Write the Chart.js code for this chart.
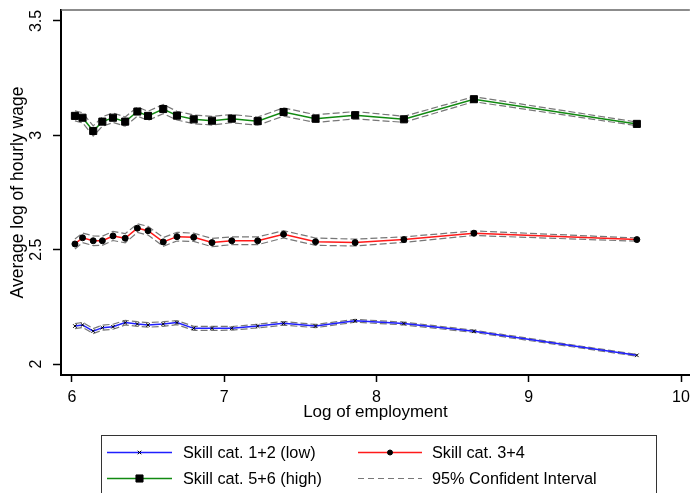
<!DOCTYPE html>
<html>
<head>
<meta charset="utf-8">
<script src="https://cdn.jsdelivr.net/npm/chart.js@4/dist/chart.umd.min.js"></script>
<style>
  html, body { margin: 0; padding: 0; background: #fff; }
  #wrap { width: 696px; height: 493px; }
</style>
</head>
<body>
<div id="wrap"><canvas id="wageChart" width="696" height="493"></canvas></div>
<script>
// Data
const logEmployment = [6.02, 6.07, 6.14, 6.20, 6.27, 6.35, 6.43, 6.50, 6.60, 6.69, 6.80, 6.92, 7.05, 7.22, 7.39, 7.60, 7.86, 8.18, 8.64, 9.71];

const lowSkill  = [2.166, 2.171, 2.144, 2.159, 2.163, 2.181, 2.175, 2.171, 2.175, 2.181, 2.156, 2.156, 2.156, 2.166, 2.178, 2.166, 2.189, 2.177, 2.143, 2.038];
const lowHi     = [2.177, 2.182, 2.155, 2.170, 2.174, 2.191, 2.185, 2.181, 2.185, 2.190, 2.165, 2.165, 2.164, 2.174, 2.186, 2.173, 2.195, 2.183, 2.148, 2.042];
const lowLo     = [2.155, 2.160, 2.133, 2.148, 2.152, 2.171, 2.165, 2.161, 2.165, 2.172, 2.147, 2.147, 2.148, 2.158, 2.170, 2.159, 2.183, 2.171, 2.138, 2.034];

const midSkill  = [2.525, 2.552, 2.539, 2.539, 2.560, 2.550, 2.594, 2.583, 2.534, 2.557, 2.554, 2.531, 2.539, 2.539, 2.567, 2.535, 2.531, 2.544, 2.572, 2.544];
const midHi     = [2.547, 2.573, 2.560, 2.559, 2.580, 2.570, 2.613, 2.602, 2.553, 2.576, 2.572, 2.549, 2.556, 2.556, 2.583, 2.551, 2.546, 2.556, 2.582, 2.551];
const midLo     = [2.503, 2.531, 2.518, 2.519, 2.540, 2.530, 2.575, 2.564, 2.515, 2.538, 2.536, 2.513, 2.522, 2.522, 2.551, 2.519, 2.516, 2.532, 2.562, 2.537];

const highSkill = [3.085, 3.077, 3.019, 3.060, 3.077, 3.060, 3.104, 3.085, 3.115, 3.086, 3.070, 3.064, 3.073, 3.062, 3.102, 3.073, 3.088, 3.070, 3.158, 3.050];
const highHi    = [3.107, 3.099, 3.041, 3.081, 3.098, 3.080, 3.124, 3.105, 3.135, 3.105, 3.089, 3.083, 3.091, 3.080, 3.120, 3.090, 3.104, 3.083, 3.169, 3.058];
const highLo    = [3.063, 3.055, 2.997, 3.039, 3.056, 3.040, 3.084, 3.065, 3.095, 3.067, 3.051, 3.045, 3.055, 3.044, 3.084, 3.056, 3.072, 3.057, 3.147, 3.042];

const xTicks = [6, 7, 8, 9, 10];
const yTicks = [2, 2.5, 3, 3.5];

const seriesLabels = ['Skill cat. 1+2 (low)', 'Skill cat. 3+4', 'Skill cat. 5+6 (high)', '95% Confident Interval'];

const FONT = "'Liberation Sans', Arial, sans-serif";
const BLUE = '#1f1fff';
const RED = '#ff1a1a';
const GREEN = '#118a11';
const CI_GREY = '#777';

function toPoints(values) {
    return values.map((v, i) => ({ x: logEmployment[i], y: v }));
}

function seriesDataset(label, values, color, style, radius) {
    return {
        label: label,
        data: toPoints(values),
        borderColor: color,
        borderWidth: 1.5,
        pointStyle: style,
        pointRadius: radius,
        pointBackgroundColor: '#000',
        pointBorderColor: '#000',
        pointBorderWidth: 1,
        tension: 0,
        fill: false,
        order: 0
    };
}

function ciDataset(values) {
    return {
        label: 'ci',
        data: toPoints(values),
        borderColor: CI_GREY,
        borderWidth: 1.2,
        borderDash: [7, 3],
        pointRadius: 0,
        tension: 0,
        fill: false,
        order: 1
    };
}

// frame, rotated y tick labels and the boxed legend
const extrasPlugin = {
    id: 'extras',
    afterDraw(chart) {
        const { ctx, chartArea, scales } = chart;
        ctx.save();

        // top border
        ctx.strokeStyle = '#666';
        ctx.lineWidth = 1.5;
        ctx.beginPath();
        ctx.moveTo(chartArea.left, chartArea.top);
        ctx.lineTo(chartArea.right, chartArea.top);
        ctx.stroke();

        // vertical y tick labels
        ctx.fillStyle = '#000';
        ctx.font = '16px ' + FONT;
        ctx.textAlign = 'center';
        ctx.textBaseline = 'middle';
        yTicks.forEach(v => {
            const y = scales.y.getPixelForValue(v);
            ctx.save();
            ctx.translate(37, y);
            ctx.rotate(-Math.PI / 2);
            ctx.fillText(String(v), 0, 0);
            ctx.restore();
        });

        // legend box
        ctx.strokeStyle = '#333';
        ctx.lineWidth = 1;
        ctx.strokeRect(101.5, 435.5, 555, 70);

        const rows = [452.5, 478.5];
        const cols = [{ x0: 107, x1: 172, tx: 183 }, { x0: 358, x1: 422, tx: 432 }];
        const entries = [
            { col: 0, row: 0, color: BLUE, marker: 'crossRot', r: 2.5 },
            { col: 1, row: 0, color: RED, marker: 'circle', r: 2.5 },
            { col: 0, row: 1, color: GREEN, marker: 'rect', r: 5 },
            { col: 1, row: 1, color: CI_GREY, marker: null, r: 0 }
        ];
        entries.forEach((e, i) => {
            const c = cols[e.col];
            const y = rows[e.row];
            ctx.save();
            ctx.strokeStyle = e.color;
            ctx.lineWidth = e.marker ? 1.5 : 1;
            if (!e.marker) ctx.setLineDash([6, 4]);
            ctx.beginPath();
            ctx.moveTo(c.x0, y);
            ctx.lineTo(c.x1, y);
            ctx.stroke();
            ctx.restore();
            if (e.marker) {
                ctx.fillStyle = '#000';
                ctx.strokeStyle = '#000';
                ctx.lineWidth = 1;
                Chart.helpers.drawPoint(ctx, { pointStyle: e.marker, radius: e.r, borderWidth: 1 }, (c.x0 + c.x1) / 2, y);
            }
            ctx.fillStyle = '#000';
            ctx.font = '16.3px ' + FONT;
            ctx.textAlign = 'left';
            ctx.textBaseline = 'middle';
            ctx.fillText(seriesLabels[i], c.tx, y + 1);
        });

        ctx.restore();
    }
};

const ctx = document.getElementById('wageChart').getContext('2d');
const wageChart = new Chart(ctx, {
    type: 'line',
    data: {
        datasets: [
            seriesDataset(seriesLabels[0], lowSkill, BLUE, 'crossRot', 2.5),
            seriesDataset(seriesLabels[1], midSkill, RED, 'circle', 3),
            seriesDataset(seriesLabels[2], highSkill, GREEN, 'rect', 5),
            ciDataset(lowHi), ciDataset(lowLo),
            ciDataset(midHi), ciDataset(midLo),
            ciDataset(highHi), ciDataset(highLo)
        ]
    },
    options: {
        responsive: false,
        animation: false,
        layout: { padding: { top: 10, right: 0, bottom: 68, left: 0 } },
        plugins: {
            legend: { display: false },
            tooltip: { enabled: false }
        },
        scales: {
            x: {
                type: 'linear',
                min: 5.9285,
                max: 10.058,
                afterBuildTicks: s => { s.ticks = xTicks.map(v => ({ value: v })); },
                afterFit: s => { s.height = 50; },
                grid: { drawOnChartArea: false, drawTicks: true, tickLength: 7, tickColor: '#000', tickWidth: 1.5 },
                border: { display: true, color: '#000', width: 2 },
                ticks: { color: '#000', padding: 6, maxRotation: 0, font: { family: FONT, size: 16 } },
                title: {
                    display: true,
                    text: 'Log of employment',
                    color: '#000',
                    font: { family: FONT, size: 17 },
                    padding: { top: 0, bottom: 2 }
                }
            },
            y: {
                type: 'linear',
                min: 1.952,
                max: 3.548,
                afterBuildTicks: s => { s.ticks = yTicks.map(v => ({ value: v })); },
                afterFit: s => { s.width = 61; },
                grid: { drawOnChartArea: false, drawTicks: true, tickLength: 8, tickColor: '#000', tickWidth: 1.5 },
                border: { display: true, color: '#000', width: 2 },
                ticks: { display: false },
                title: {
                    display: true,
                    text: 'Average log of hourly wage',
                    color: '#000',
                    font: { family: FONT, size: 17.5 },
                    padding: { top: 8, bottom: 0 }
                }
            }
        }
    },
    plugins: [extrasPlugin]
});
</script>
</body>
</html>
